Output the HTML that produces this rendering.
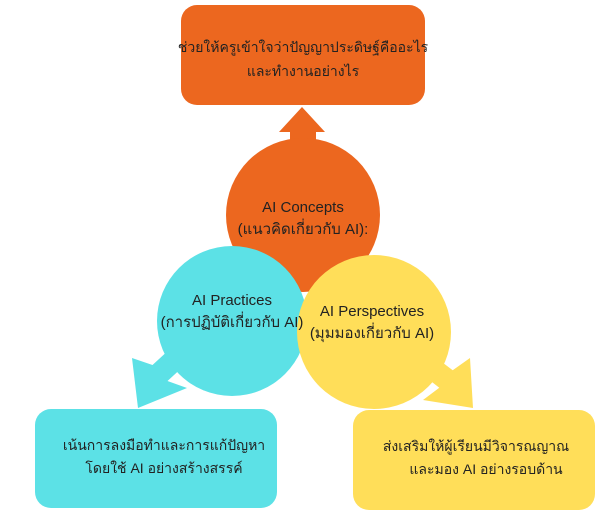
<!DOCTYPE html>
<html><head><meta charset="utf-8"><style>
html,body{margin:0;padding:0;background:#fff;width:607px;height:525px;overflow:hidden}
svg{display:block}
text{font-family:"Liberation Sans","Noto Sans CJK SC","WenQuanYi Zen Hei",sans-serif;fill:#222;font-size:14px}
</style></head><body>
<svg width="607" height="525" viewBox="0 0 607 525">
<rect x="181" y="5" width="244" height="100" rx="16" fill="#ec671f"/>
<text x="303" y="52" text-anchor="middle">ช่วยให้ครูเข้าใจว่าปัญญาประดิษฐ์คืออะไร</text>
<text x="303" y="76" text-anchor="middle">และทำงานอย่างไร</text>
<polygon points="302,107 325,132 316,132 316,160 290,160 290,132 279,132" fill="#ec671f"/>
<polygon points="138,408 132,358 152.5,365 196,325 211,341 167.5,381 187,388" fill="#5ce1e6"/>
<polygon points="473,408 470,358 452.7,370.3 405,334 392,351 439.3,387.7 423,400" fill="#ffde59"/>
<circle cx="303" cy="215" r="77" fill="#ec671f"/>
<circle cx="232" cy="321" r="75" fill="#5ce1e6"/>
<circle cx="374" cy="332" r="77" fill="#ffde59"/>
<text x="303" y="212" text-anchor="middle" style="font-size:15px">AI Concepts</text>
<text x="303" y="234" text-anchor="middle" style="font-size:15px">(แนวคิดเกี่ยวกับ AI):</text>
<text x="232" y="305" text-anchor="middle" style="font-size:15px">AI Practices</text>
<text x="232" y="327" text-anchor="middle" style="font-size:15px">(การปฏิบัติเกี่ยวกับ AI)</text>
<text x="372" y="316" text-anchor="middle" style="font-size:15px">AI Perspectives</text>
<text x="372" y="338" text-anchor="middle" style="font-size:15px">(มุมมองเกี่ยวกับ AI)</text>
<rect x="35" y="409" width="242" height="99" rx="16" fill="#5ce1e6"/>
<text x="164" y="450" text-anchor="middle">เน้นการลงมือทำและการแก้ปัญหา</text>
<text x="164" y="473" text-anchor="middle">โดยใช้ AI อย่างสร้างสรรค์</text>
<rect x="353" y="410" width="242" height="100" rx="16" fill="#ffde59"/>
<text x="476" y="451" text-anchor="middle">ส่งเสริมให้ผู้เรียนมีวิจารณญาณ</text>
<text x="486" y="474" text-anchor="middle">และมอง AI อย่างรอบด้าน</text>
</svg>
</body></html>
